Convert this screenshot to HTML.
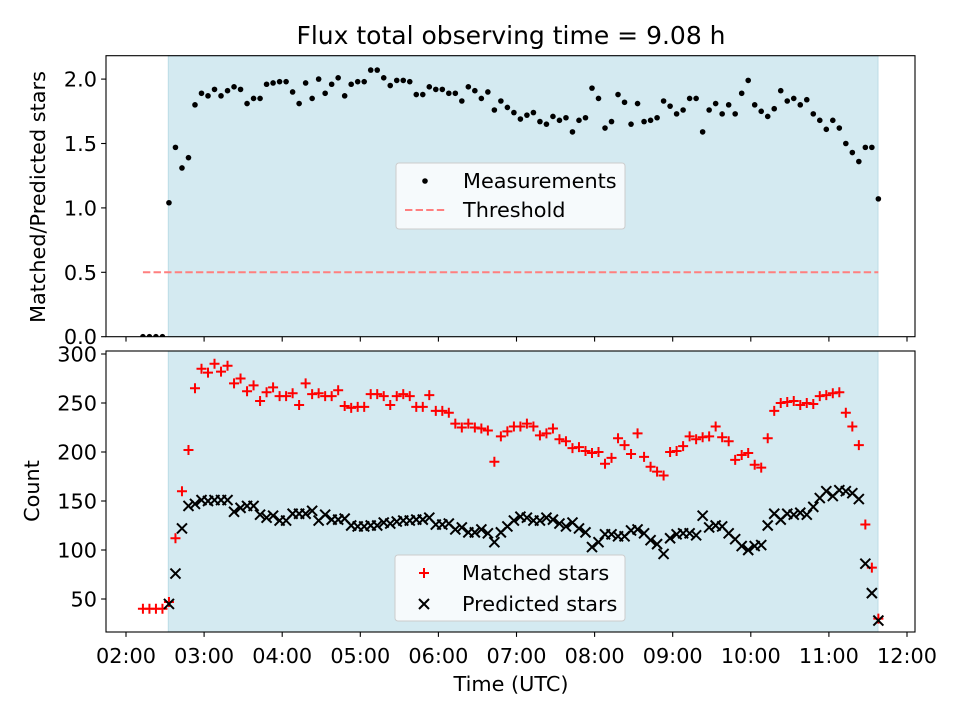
<!DOCTYPE html>
<html><head><meta charset="utf-8"><style>
html,body{margin:0;padding:0;background:#fff;}
svg{display:block;font-family:"DejaVu Sans","Liberation Sans",sans-serif;}
</style></head><body>
<svg id="chart" width="960" height="720" viewBox="0 0 960 720" xmlns="http://www.w3.org/2000/svg">
<defs>
<clipPath id="clipTop"><rect x="106" y="55.7" width="809" height="281"/></clipPath>
<clipPath id="clipBot"><rect x="106" y="351" width="809" height="281"/></clipPath>
</defs>
<text x="511" y="44" font-size="25" text-anchor="middle">Flux total observing time = 9.08 h</text>
<g id="top"></g>
<g id="bot"></g>
<text x="511" y="691" font-size="20.8" text-anchor="middle">Time (UTC)</text>
<text transform="translate(45,197) rotate(-90)" font-size="20.8" text-anchor="middle">Matched/Predicted stars</text>
<text transform="translate(39,491) rotate(-90)" font-size="20.8" text-anchor="middle">Count</text>
</svg>
<script>
// time in minutes since 00:00 UTC
const times = [133,138,143,148,
153,158,163,168,173,178,183,188,193,198,203,208,213,218,223,228,233,238,243,248,253,258,263,268,273,278,283,288,293,298,303,308,313,318,323,328,333,338,343,348,353,358,363,368,373,378,383,388,393,398,403,
408,413,418,423,428,433,438,443,448,453,458,463,468,473,478,483,488,493,498,503,508,513,518,523,528,533,538,543,548,553,558,563,568,573,578,583,588,593,598,603,608,613,618,623,628,633,638,643,648,653,658,663,668,673,678,683,688,693,698];
const ratio = [0,0,0,0,
1.04,1.47,1.31,1.39,1.80,1.89,1.87,1.92,1.87,1.91,
1.94,1.92,1.81,1.85,1.85,1.96,1.97,1.98,1.98,1.90,
1.81,1.97,1.85,2.00,1.89,1.96,2.01,1.87,1.96,1.98,
1.98,2.07,2.07,2.01,1.95,1.99,1.99,1.98,1.88,1.88,
1.94,1.92,1.92,1.89,1.89,1.83,1.94,1.91,1.85,1.90,1.76,
1.83,1.78,1.74,1.69,1.72,1.74,1.67,1.65,1.71,1.68,
1.70,1.59,1.68,1.70,1.93,1.85,1.62,1.67,1.88,1.82,
1.65,1.81,1.67,1.68,1.70,1.83,1.79,1.73,1.76,1.85,
1.85,1.59,1.76,1.81,1.73,1.80,1.73,1.89,1.99,1.80,
1.75,1.71,1.77,1.91,1.83,1.85,1.80,1.84,1.73,1.68,
1.61,1.68,1.62,1.50,1.43,1.36,1.47,1.47,1.07];
const predicted = [0,0,0,0,
45,76,122,145,147,151,150,151,151,151,
139,143,145,145,136,133,135,130,130,137,
137,137,140,130,136,131,131,132,125,124,
124,125,125,128,127,129,130,130,131,131,
133,126,126,127,121,123,118,118,121,117,108,
118,124,130,134,133,130,130,133,131,127,
124,128,122,118,103,108,116,116,114,114,
120,121,117,110,106,96,112,116,117,117,
115,135,123,125,124,117,111,104,100,104,
105,125,137,131,137,136,138,136,144,153,
160,155,161,160,158,152,86,56,28];
const matched = [40,40,40,40,
47,112,160,202,265,285,281,290,282,288,
270,275,262,268,252,261,266,257,257,260,
248,270,259,260,257,257,263,247,245,246,
246,259,259,257,248,257,259,257,246,246,
258,242,242,240,229,225,229,225,224,222,190,
216,221,226,226,229,226,217,219,224,213,
211,204,205,201,199,200,188,194,214,207,
198,219,195,185,180,176,200,201,206,216,
213,215,216,226,215,211,192,197,199,187,
184,214,242,250,251,252,248,250,249,257,
258,260,261,240,226,207,126,82,30];
const threshold = 0.5;
const thresholdStart = 133, thresholdEnd = 698;
const shadeStart = 152.5, shadeEnd = 697.7;
const xTicks = [120,180,240,300,360,420,480,540,600,660,720];
const xTickLabels = ["02:00","03:00","04:00","05:00","06:00","07:00","08:00","09:00","10:00","11:00","12:00"];
const topYTicks = [0,0.5,1.0,1.5,2.0];
const topYTickLabels = ["0.0","0.5","1.0","1.5","2.0"];
const botYTicks = [50,100,150,200,250,300];
const botYTickLabels = ["50","100","150","200","250","300"];

const NS="http://www.w3.org/2000/svg";
const L=106,R=915,TT=55.7,TB=336.7,BT=351,BB=632;
const FS=20.8;
function xs(m){return 126+(m-120)/60*78.1;}
function yTop(v){return 336.7-v*128.8;}
function yBot(c){return 599-(c-50)*0.98;}
function mk(tag,attrs,parent){const e=document.createElementNS(NS,tag);for(const k in attrs)e.setAttribute(k,attrs[k]);parent.appendChild(e);return e;}

function panel(g,top,bot,clip,yfun,ticks,labels,showXLabels,nm){
  let r=mk('rect',{x:xs(shadeStart),y:top,width:xs(shadeEnd)-xs(shadeStart),height:bot-top,fill:'#d4eaf1',stroke:'#bcdce6','stroke-width':1},g);
  
  
  const data=mk('g',{'clip-path':'url(#'+clip+')'},g);
  
  
  for(let i=0;i<ticks.length;i++){
    const y=yfun(ticks[i]);
    let t=mk('line',{x1:L-4.9,x2:L,y1:y,y2:y,stroke:'#000','stroke-width':1.1},g);
    
    
    let tx=mk('text',{x:L-9,y:y+7.5,'font-size':FS,'text-anchor':'end'},g);
    tx.textContent=labels[i];
    
    
  }
  for(let i=0;i<xTicks.length;i++){
    const x=xs(xTicks[i]);
    let t=mk('line',{x1:x,x2:x,y1:bot,y2:bot+4.9,stroke:'#000','stroke-width':1.1},g);
    
    
    if(showXLabels){
      let tx=mk('text',{x:x,y:bot+31,'font-size':FS,'text-anchor':'middle'},g);
      tx.textContent=xTickLabels[i];
      
      
    }
  }
  let f=mk('rect',{x:L,y:top,width:R-L,height:bot-top,fill:'none',stroke:'#000','stroke-width':1.1},g);
  
  
  return data;
}

const gt=document.getElementById('top'), gb=document.getElementById('bot');
const dTop=panel(gt,TT,TB,'clipTop',yTop,topYTicks,topYTickLabels,false,'top');
let th=mk('line',{x1:xs(thresholdStart),x2:xs(thresholdEnd),y1:yTop(threshold),y2:yTop(threshold),stroke:'#ff7f7f','stroke-width':2,'stroke-dasharray':'7.4,3.2'},dTop);


for(let i=0;i<times.length;i++){
  let c=mk('circle',{cx:xs(times[i]),cy:yTop(ratio[i]),r:2.8,fill:'#000'},dTop);
  
  
}
const dBot=panel(gb,BT,BB,'clipBot',yBot,botYTicks,botYTickLabels,true,'bottom');
for(let i=0;i<times.length;i++){
  const x=xs(times[i]),y=yBot(matched[i]);
  let p=mk('path',{d:`M${x-5},${y}H${x+5}M${x},${y-5}V${y+5}`,stroke:'#ff0000','stroke-width':2,fill:'none'},dBot);
  
  
}
for(let i=0;i<times.length;i++){
  const x=xs(times[i]),y=yBot(predicted[i]);
  let p=mk('path',{d:`M${x-5},${y-5}L${x+5},${y+5}M${x-5},${y+5}L${x+5},${y-5}`,stroke:'#000','stroke-width':2,fill:'none'},dBot);
  
  
}
function legendBox(g,x,y,w,h,nm){
  let b=mk('rect',{x:x,y:y,width:w,height:h,rx:3,fill:'#f6fafc',stroke:'#cccccc','stroke-width':1},g);
  
  
}
legendBox(gt,396,163,229,66,'top-legend');
let ld=mk('circle',{cx:425,cy:181,r:2.8,fill:'#000'},gt);


let lt1=mk('text',{x:463,y:188,'font-size':FS},gt); lt1.textContent='Measurements';


let ll=mk('line',{x1:405,x2:446,y1:210,y2:210,stroke:'#ff7f7f','stroke-width':2,'stroke-dasharray':'7.4,3.2'},gt);


let lt2=mk('text',{x:463,y:217,'font-size':FS},gt); lt2.textContent='Threshold';



legendBox(gb,395,555,230,66,'bottom-legend');
let lp=mk('path',{d:'M419,573H429M424,568V578',stroke:'#ff0000','stroke-width':2},gb);


let lt3=mk('text',{x:462,y:580,'font-size':FS},gb); lt3.textContent='Matched stars';


let lx=mk('path',{d:'M419,599L429,609M419,609L429,599',stroke:'#000','stroke-width':2},gb);


let lt4=mk('text',{x:462,y:611,'font-size':FS},gb); lt4.textContent='Predicted stars';


</script>
</body></html>
